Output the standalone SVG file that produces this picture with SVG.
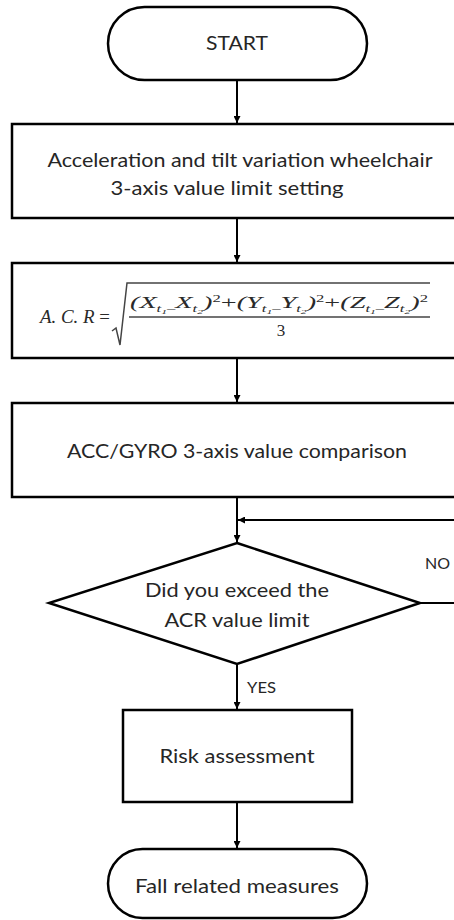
<svg xmlns="http://www.w3.org/2000/svg" width="454" height="920" viewBox="0 0 454 920">
  <defs>
    <marker id="arrow" viewBox="0 0 10 10" refX="10" refY="5" markerWidth="3.5" markerHeight="3.5" orient="auto" markerUnits="strokeWidth">
      <path d="M0,0 L10,5 L0,10 z" fill="#000"/>
    </marker>
    <style>
      .shape { fill: #fff; stroke: #000; stroke-width: 2.5; }
      .conn { fill: none; stroke: #000; stroke-width: 2; }
      .label { font-family: Lato, "Open Sans", "Liberation Sans", sans-serif; font-size: 19px; fill: #262626; }
      .small { font-family: Lato, "Open Sans", "Liberation Sans", sans-serif; font-size: 16px; fill: #262626; }
      .math { font-family: "Liberation Serif", "DejaVu Serif", serif; fill: #2a2a2a; }
      .it { font-style: italic; }
      .mline { fill: none; stroke: #444; stroke-width: 1.5; }
    </style>
  </defs>
  <rect width="454" height="920" fill="#fff"/>

  <!-- connectors -->
  <g id="connectors">
    <path class="conn" d="M237,81 V123" marker-end="url(#arrow)"/>
    <path class="conn" d="M237,219 V262" marker-end="url(#arrow)"/>
    <path class="conn" d="M237,359 V402" marker-end="url(#arrow)"/>
    <path class="conn" d="M237,498 V542" marker-end="url(#arrow)"/>
    <path class="conn" d="M237,665 V709" marker-end="url(#arrow)"/>
    <path class="conn" d="M237,803 V848" marker-end="url(#arrow)"/>
    <path class="conn" d="M421,603 H470 V520 H238" marker-end="url(#arrow)"/>
    <text class="small" x="247" y="693" textLength="29" lengthAdjust="spacingAndGlyphs">YES</text>
    <text class="small" x="425" y="569" textLength="25" lengthAdjust="spacingAndGlyphs">NO</text>
  </g>

  <!-- start terminal -->
  <g id="start">
    <rect class="shape" x="108" y="7" width="259" height="73" rx="36.5"/>
    <text class="label" x="237" y="50" text-anchor="middle" textLength="62" lengthAdjust="spacingAndGlyphs">START</text>
  </g>

  <!-- limit setting -->
  <g id="limit-setting">
    <rect class="shape" x="12" y="124" width="450" height="94"/>
    <text class="label" x="240" y="167" text-anchor="middle" textLength="385" lengthAdjust="spacingAndGlyphs">Acceleration and tilt variation wheelchair</text>
    <text class="label" x="227" y="195" text-anchor="middle" textLength="233" lengthAdjust="spacingAndGlyphs">3-axis value limit setting</text>
  </g>

  <!-- ACR formula -->
  <g id="acr-formula">
    <rect class="shape" x="12" y="263" width="450" height="95"/>
    <text class="math it" x="40" y="323" font-size="18" textLength="70" lengthAdjust="spacingAndGlyphs">A. C. R <tspan font-style="normal">=</tspan></text>
    <path class="mline" d="M112,331 L116,328 L120,345 L127,283 H430"/>
    <path class="mline" d="M129,317 H430"/>
    <text class="math it" x="130" y="308" font-size="17" textLength="298" lengthAdjust="spacingAndGlyphs">(X<tspan dy="4" font-size="10">t</tspan><tspan dy="2" font-size="7">1</tspan><tspan dy="-2" font-size="10">–</tspan><tspan dy="-4" font-size="17">X</tspan><tspan dy="4" font-size="10">t</tspan><tspan dy="2" font-size="7">2</tspan><tspan dy="-6" font-size="17">)</tspan><tspan dy="-6" font-size="10" font-style="normal">2</tspan><tspan dy="6" font-size="17" font-style="normal">+</tspan><tspan font-size="17">(Y</tspan><tspan dy="4" font-size="10">t</tspan><tspan dy="2" font-size="7">1</tspan><tspan dy="-2" font-size="10">–</tspan><tspan dy="-4" font-size="17">Y</tspan><tspan dy="4" font-size="10">t</tspan><tspan dy="2" font-size="7">2</tspan><tspan dy="-6" font-size="17">)</tspan><tspan dy="-6" font-size="10" font-style="normal">2</tspan><tspan dy="6" font-size="17" font-style="normal">+</tspan><tspan font-size="17">(Z</tspan><tspan dy="4" font-size="10">t</tspan><tspan dy="2" font-size="7">1</tspan><tspan dy="-2" font-size="10">–</tspan><tspan dy="-4" font-size="17">Z</tspan><tspan dy="4" font-size="10">t</tspan><tspan dy="2" font-size="7">2</tspan><tspan dy="-6" font-size="17">)</tspan><tspan dy="-6" font-size="10" font-style="normal">2</tspan></text>
    <text class="math" x="281" y="336" font-size="17" text-anchor="middle">3</text>
  </g>

  <!-- comparison -->
  <g id="comparison">
    <rect class="shape" x="12" y="403" width="450" height="94"/>
    <text class="label" x="237" y="458" text-anchor="middle" textLength="340" lengthAdjust="spacingAndGlyphs">ACC/GYRO 3-axis value comparison</text>
  </g>

  <!-- decision -->
  <g id="decision">
    <polygon class="shape" points="237,543 420,603 237,664 49,603"/>
    <text class="label" x="237" y="597" text-anchor="middle" textLength="184" lengthAdjust="spacingAndGlyphs">Did you exceed the</text>
    <text class="label" x="237" y="627" text-anchor="middle" textLength="145" lengthAdjust="spacingAndGlyphs">ACR value limit</text>
  </g>

  <!-- risk assessment -->
  <g id="risk">
    <rect class="shape" x="123" y="710" width="229" height="92"/>
    <text class="label" x="237" y="763" text-anchor="middle" textLength="155" lengthAdjust="spacingAndGlyphs">Risk assessment</text>
  </g>

  <!-- end terminal -->
  <g id="end">
    <rect class="shape" x="108" y="849" width="259" height="69" rx="34.5"/>
    <text class="label" x="237" y="893" text-anchor="middle" textLength="204" lengthAdjust="spacingAndGlyphs">Fall related measures</text>
  </g>
</svg>
